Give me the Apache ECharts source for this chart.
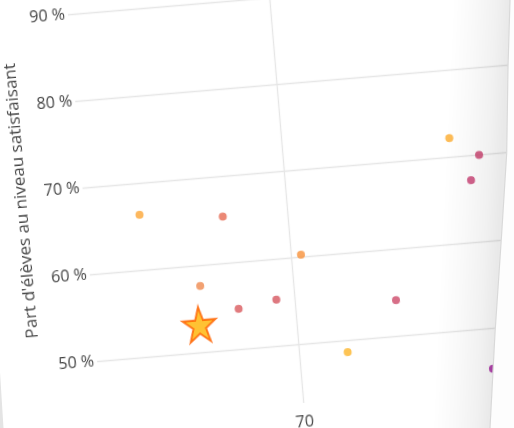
<!DOCTYPE html>
<html>
<head>
<meta charset="utf-8">
<script src="https://cdn.jsdelivr.net/npm/echarts@6/dist/echarts.min.js"></script>
<style>
html,body{margin:0;padding:0;width:514px;height:428px;overflow:hidden;background:#fdfdfd;}
#page{position:absolute;left:0;top:0;width:514px;height:428px;background:#fff;overflow:hidden;
  clip-path:polygon(0 0,510px 0,508px 67px,506.7px 153px,501.7px 233px,495px 333px,490px 428px,0 428px);}
#chart{position:absolute;left:0;top:0;width:640px;height:540px;transform-origin:0 0;
  transform:translate(-47.7px,-48.2px) rotate(-4.8deg);filter:blur(0.35px);}
#shade{position:absolute;left:0;top:0;width:514px;height:428px;pointer-events:none;
  background:linear-gradient(92.7deg, rgba(0,0,0,0) 452px, rgba(0,0,0,0.025) 474px, rgba(0,0,0,0.055) 496px, rgba(0,0,0,0.085) 509px);}
#edges{position:absolute;left:0;top:0;pointer-events:none;}
</style>
</head>
<body>
<div id="page">
  <div id="chart"></div>
  <div id="shade"></div>
</div>
<svg id="edges" width="514" height="428">
  <polyline points="510,0 508,67 506.7,153 501.7,233 495,333 490,428" fill="none" stroke="#d9d9d9" stroke-width="1.2"/>
  <polygon points="0,372 3.5,428 0,428" fill="#e4e4e4"/>
</svg>
<script>
// Data
const xValues = [62.7, 66.8, 65.4, 67.2, 69.1, 70.5, 75.0, 72.4, 78.3, 79.7, 79.2, 79.5];
const yValues = [66.4, 65.4, 57.7, 54.7, 55.4, 60.3, 54.2, 48.7, 72.2, 70.0, 67.2, 45.4];
const pointColors = ['#fca636', '#e66a52', '#ef8a4f', '#da5a5e', '#d6565f', '#f7913a',
                     '#cd4a69', '#fdb52b', '#fdab2d', '#c93d6c', '#c83c70', '#a3189c'];
const starX = [65.2];
const starY = [53.3];
const xGridValues = [70];
const yAxisTitle = "Part d'élèves au niveau satisfaisant";

const starPath = 'path://M50,0 L61.23,34.55 L97.55,34.55 L68.17,55.9 L79.39,90.45 L50,69.1 L20.61,90.45 L31.83,55.9 L2.45,34.55 L38.77,34.55 Z';

const chart = echarts.init(document.getElementById('chart'), null, {renderer: 'canvas'});
const pts = xValues.map((x, i) => ({value: [x, yValues[i]], itemStyle: {color: pointColors[i]}}));
const star = starX.map((x, i) => [x, starY[i]]);

chart.setOption({
  animation: false,
  backgroundColor: 'transparent',
  grid: {left: 110, right: 25, top: 28.71, bottom: 60.9, outerBoundsMode: 'none'},
  xAxis: {
    type: 'value', min: 60, max: 85, interval: 10,
    axisLine: {show: false}, axisTick: {show: false},
    axisLabel: {color: '#444', fontFamily: 'Open Sans', fontSize: 16, margin: 11,
                showMinLabel: false, showMaxLabel: false},
    splitLine: {show: false}
  },
  yAxis: {
    type: 'value', min: 43.3, max: 95, splitNumber: 5,
    axisLine: {show: false}, axisTick: {show: false},
    axisLabel: {color: '#444', fontFamily: 'Open Sans', fontSize: 16, margin: 3,
                showMinLabel: false, showMaxLabel: false,
                formatter: v => v + ' %'},
    splitLine: {show: true, showMinLine: false, showMaxLine: false,
                lineStyle: {color: '#e6e6e6', width: 1.3}},
    name: yAxisTitle, nameLocation: 'middle', nameGap: 53,
    nameTextStyle: {color: '#444', fontFamily: 'Open Sans', fontSize: 17}
  },
  series: [
    {type: 'scatter', data: pts, symbolSize: 8, z: 2,
     markLine: {silent: true, symbol: 'none', label: {show: false}, animation: false,
                lineStyle: {color: '#e6e6e6', width: 1.3, type: 'solid'},
                data: xGridValues.map(v => ({xAxis: v}))}},
    {type: 'scatter', data: star, symbol: starPath, symbolSize: [33, 35], z: 3,
     itemStyle: {color: '#ffb300', borderColor: '#ff6000', borderWidth: 2}}
  ]
});
</script>
</body>
</html>
